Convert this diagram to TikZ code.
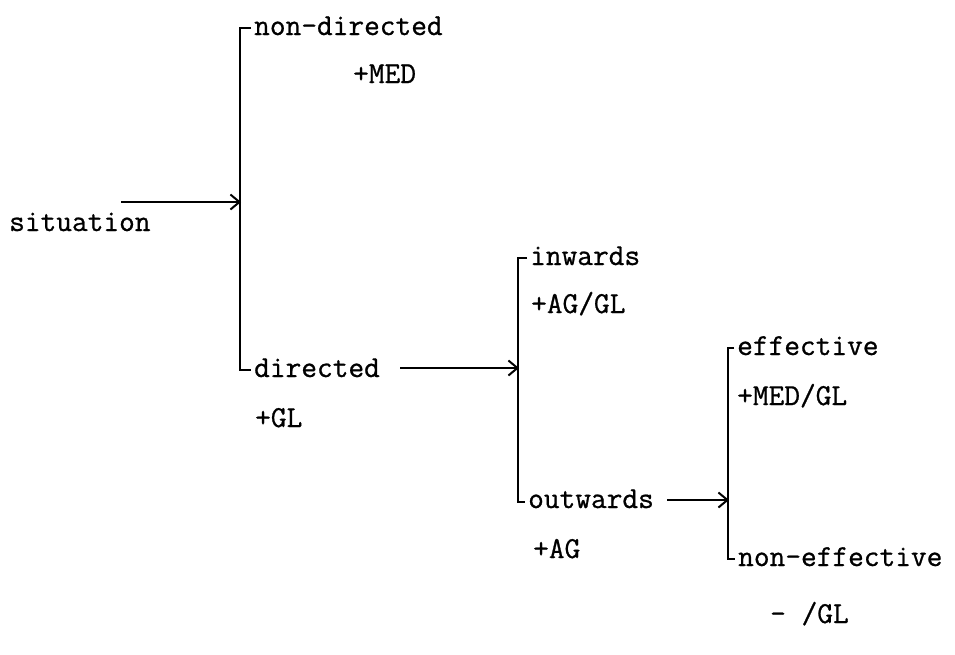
\documentclass[tikz,border=0pt]{standalone}
\usepackage{fontspec}
\newfontfamily\typew{Latin Modern Mono}[FakeBold=0.8]
\usetikzlibrary{arrows.meta}
\begin{document}
\begin{tikzpicture}[x=1pt,y=-1pt,
  lab/.style={font=\fontsize{30.5}{36}\selectfont\typew, inner sep=0pt, anchor=base west},
  brk/.style={line width=2pt, line cap=butt},
  arr/.style={line width=2pt, -{Straight Barb[length=9pt,width=15pt,line width=2pt]}}]
\useasboundingbox (0,0) rectangle (955,654);

% first system
\node[lab] (sit) at (9,231) {situation};
\node[lab] (nd)  at (254,35) {non-directed};
\node[lab] (med) at (353,83) {+MED};
\node[lab] (dir) at (254,377) {directed};
\node[lab] (gl)  at (255,427) {+GL};
\coordinate (b1t) at (240,28);
\coordinate (b1b) at (240,370);
\coordinate (b1m) at (241,202);
\coordinate (a1s) at (121,202);
\draw[brk] ([xshift=-3pt]nd.west |- b1t) -- (b1t) -- (b1b) -- ([xshift=-3pt]dir.west |- b1b);
\draw[arr] (a1s) -- (b1m);

% second system
\node[lab] (inw) at (530,265) {inwards};
\node[lab] (aggl) at (531,313) {+AG/GL};
\node[lab] (outw) at (528,508) {outwards};
\node[lab] (ag) at (533,558) {+AG};
\coordinate (b2t) at (518,258);
\coordinate (b2b) at (518,502);
\coordinate (b2m) at (519,368);
\coordinate (a2s) at (400,368);
\draw[brk] ([xshift=-3pt]inw.west |- b2t) -- (b2t) -- (b2b) -- ([xshift=-3pt]outw.west |- b2b);
\draw[arr] (a2s) -- (b2m);

% third system
\node[lab] (eff) at (737,355) {effective};
\node[lab] (medgl) at (737,405) {+MED/GL};
\node[lab] (neff) at (738,566) {non-effective};
\node[lab] (mgl) at (770,623) {- /GL};
\coordinate (b3t) at (728,348);
\coordinate (b3b) at (728,559);
\coordinate (b3m) at (729,500);
\coordinate (a3s) at (667,500);
\draw[brk] ([xshift=-3pt]eff.west |- b3t) -- (b3t) -- (b3b) -- ([xshift=-3pt]neff.west |- b3b);
\draw[arr] (a3s) -- (b3m);
\end{tikzpicture}
\end{document}
